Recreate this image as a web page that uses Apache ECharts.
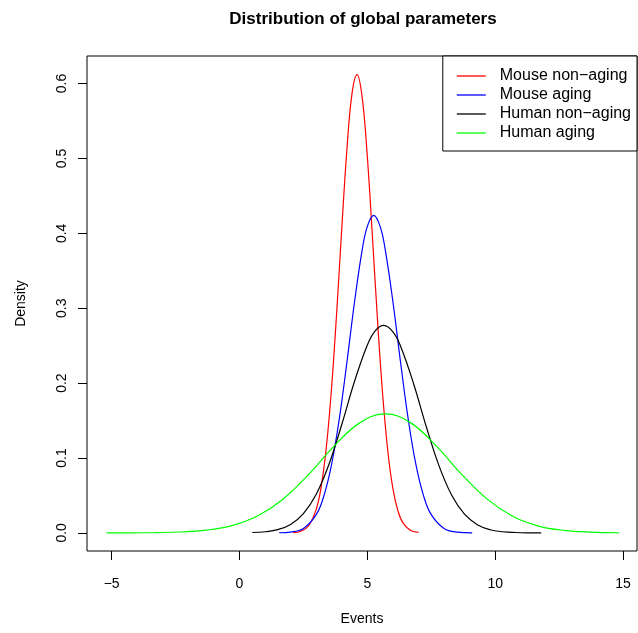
<!DOCTYPE html>
<html>
<head>
<meta charset="utf-8">
<script src="https://cdn.jsdelivr.net/npm/echarts@6/dist/echarts.min.js"></script>
<style>
  html, body { margin: 0; padding: 0; background: #ffffff; }
  #chart { width: 638px; height: 633px; }
</style>
</head>
<body>
<div id="chart"></div>
<script>
// ---- data ----
const chartTitle = 'Distribution of global parameters';
const xAxisTitle = 'Events';
const yAxisTitle = 'Density';
const xTicks = [-5, 0, 5, 10, 15];
const yTicks = [0, 0.1, 0.2, 0.3, 0.4, 0.5, 0.6];
const seriesNames = ['Mouse non\u2212aging', 'Mouse aging', 'Human non\u2212aging', 'Human aging'];

const mouseNonAgingX = [2.1, 2.4, 2.7, 3.0, 3.2, 3.4, 3.6, 3.8, 4.0, 4.2, 4.4, 4.6, 4.8, 5.0, 5.2, 5.4, 5.6, 5.8, 6.0, 6.2, 6.4, 6.7, 7.0];
const mouseNonAgingY = [0.0004, 0.0022, 0.0092, 0.0313, 0.0630, 0.1157, 0.1932, 0.2937, 0.4064, 0.5117, 0.5866, 0.612, 0.5810, 0.5022, 0.3950, 0.2829, 0.1844, 0.1094, 0.0590, 0.0290, 0.0130, 0.0033, 0.0007];

const mouseAgingX = [1.55, 2.0, 2.5, 3.0, 3.3, 3.6, 3.9, 4.2, 4.5, 4.8, 5.0, 5.25, 5.5, 5.7, 6.0, 6.3, 6.6, 6.9, 7.2, 7.5, 8.0, 8.5, 9.1];
const mouseAgingY = [0.0002, 0.0011, 0.0059, 0.0243, 0.0495, 0.0912, 0.1515, 0.2275, 0.3086, 0.3782, 0.4093, 0.424, 0.4093, 0.3782, 0.3086, 0.2275, 0.1515, 0.0912, 0.0495, 0.0243, 0.0059, 0.0011, 0.0001];

const humanNonAgingX = [0.5, 1.0, 1.5, 2.0, 2.5, 3.0, 3.5, 4.0, 4.5, 5.0, 5.3, 5.64, 6.0, 6.3, 6.8, 7.3, 7.8, 8.3, 8.8, 9.3, 9.8, 10.3, 10.8, 11.3, 11.8];
const humanNonAgingY = [0.0005, 0.0015, 0.0044, 0.0113, 0.0256, 0.0515, 0.0917, 0.1447, 0.2024, 0.2509, 0.2694, 0.277, 0.2685, 0.2493, 0.2002, 0.1424, 0.0898, 0.0502, 0.0249, 0.0109, 0.0042, 0.0015, 0.0005, 0.0001, 0.0000];

const humanAgingX = [-5.2, -4.3, -3.3, -2.3, -1.3, -0.3, 0.7, 1.7, 2.7, 3.7, 4.7, 5.7, 6.7, 7.7, 8.7, 9.7, 10.7, 11.7, 12.7, 13.7, 14.85];
const humanAgingY = [0.0000, 0.0001, 0.0004, 0.0012, 0.0037, 0.0097, 0.0225, 0.0450, 0.0778, 0.1158, 0.1469, 0.159, 0.1469, 0.1158, 0.0778, 0.0447, 0.0219, 0.0091, 0.0033, 0.0010, 0.0002];

const seriesColors = ['#ff0000', '#0000ff', '#000000', '#00ff00'];
// ----------------------------------------------

const pairs = (xs, ys) => xs.map((x, i) => [x, ys[i]]);
const seriesData = [
  pairs(mouseNonAgingX, mouseNonAgingY),
  pairs(mouseAgingX, mouseAgingY),
  pairs(humanNonAgingX, humanNonAgingY),
  pairs(humanAgingX, humanAgingY)
];

const FONT = "'Liberation Sans', Arial, Helvetica, sans-serif";
const chart = echarts.init(document.getElementById('chart'), null, { renderer: 'canvas' });

chart.setOption({
  backgroundColor: '#ffffff',
  animation: false,
  textStyle: { fontFamily: FONT },
  title: {
    text: chartTitle,
    left: 363,
    top: 11,
    padding: 0,
    textAlign: 'center',
    textStyle: { fontFamily: FONT, fontWeight: 'bold', fontSize: 17, color: '#000' }
  },
  legend: {
    orient: 'vertical',
    right: 1,
    top: 56,
    padding: [12, 6, 10, 14],
    itemGap: 3,
    itemWidth: 29,
    itemHeight: 1.3,
    icon: 'rect',
    borderColor: '#000',
    borderWidth: 1,
    backgroundColor: '#fff',
    data: seriesNames,
    textStyle: { fontFamily: FONT, fontSize: 16, color: '#000', padding: [0, 0, 0, 9] }
  },
  grid: {
    left: 87, right: 1, top: 56, bottom: 82,
    show: true, borderColor: '#000', borderWidth: 1, backgroundColor: 'transparent'
  },
  xAxis: {
    type: 'value',
    min: -5.964, max: 15.546,
    name: xAxisTitle,
    nameLocation: 'middle',
    nameGap: 61,
    nameTextStyle: { fontFamily: FONT, fontSize: 14, color: '#000' },
    axisLine: { show: false, onZero: false },
    axisTick: { show: true, inside: false, length: 9, customValues: xTicks, lineStyle: { color: '#000', width: 1 } },
    axisLabel: { customValues: xTicks, margin: 26, fontSize: 14, color: '#000', fontFamily: FONT,
      formatter: v => (v < 0 ? '\u2212' + Math.abs(v) : String(v)) },
    splitLine: { show: false }
  },
  yAxis: {
    type: 'value',
    min: -0.0242, max: 0.6368,
    name: yAxisTitle,
    nameLocation: 'middle',
    nameGap: 59,
    nameRotate: 90,
    nameTextStyle: { fontFamily: FONT, fontSize: 14, color: '#000' },
    axisLine: { show: false, onZero: false },
    axisTick: { show: true, inside: false, length: 9, customValues: yTicks, lineStyle: { color: '#000', width: 1 } },
    axisLabel: { customValues: yTicks, rotate: 90, margin: 18, fontSize: 14, color: '#000', fontFamily: FONT,
      formatter: v => v.toFixed(1) },
    splitLine: { show: false }
  },
  series: seriesNames.map((name, i) => ({
    name: name,
    type: 'line',
    data: seriesData[i],
    showSymbol: false,
    symbol: 'none',
    smooth: 0.4,
    color: seriesColors[i],
    lineStyle: { color: seriesColors[i], width: 1.2 },
    z: 2
  }))
});
</script>
</body>
</html>
